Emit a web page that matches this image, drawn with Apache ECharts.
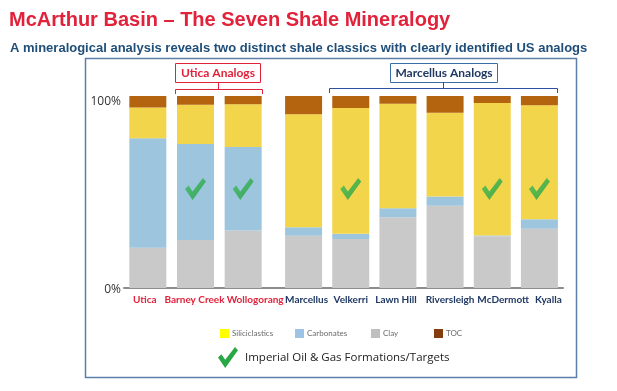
<!DOCTYPE html>
<html><head><meta charset="utf-8">
<script src="https://cdn.jsdelivr.net/npm/echarts@6/dist/echarts.min.js"></script>
<style>html,body{margin:0;padding:0;background:#fff}#c{width:617px;height:391px}</style>
</head><body><div id="c"></div>
<script>
const categories = ['Utica','Barney Creek','Wollogorang','Marcellus','Velkerri','Lawn Hill','Riversleigh','McDermott','Kyalla'];
const clay = [21, 25, 30, 27.2, 25.5, 36.9, 42.8, 26.9, 30.8];
const carbonates = [57, 50, 43.5, 4.5, 2.7, 4.7, 4.9, 0.5, 5.0];
const siliciclastics = [16, 20.5, 22.2, 58.8, 65.6, 54.4, 43.6, 69, 59.4];
const toc = [6, 4.5, 4.3, 9.5, 6.2, 4, 8.7, 3.6, 4.8];
const checks = ['-', 51.5, 51.5, '-', 51.5, '-', '-', 51.5, 51.5];
const yTicks = [0, 100];
const legendNames = ['Siliciclastics','Carbonates','Clay','TOC'];
const legendColors = ['#FFFF00','#9DC3E6','#BFBFBF','#843C0C'];
const uticaCount = 3; // first three are the Utica-analog group

const RED = '#E1223A', NAVY = '#1F3864';
const checkPath = 'path://M0,11 L4,7.5 L8.5,13.5 L20,0 L23.5,3.5 L8.5,22 Z';
const checkColor = new echarts.graphic.LinearGradient(0,0,1,1,[{offset:0,color:'#3FBF5A'},{offset:1,color:'#1E9A3E'}]);
const checkPts = [[0,11],[4,7.5],[8.5,13.5],[20,0],[23.5,3.5],[8.5,22]].map(p=>[218 + p[0]*0.85, 347 + p[1]*0.95]);

const groups = [categories.slice(0, uticaCount), categories.slice(uticaCount)];
const part = (arr, g) => g === 0 ? arr.slice(0, uticaCount) : arr.slice(uticaCount);
// horizontal nudges of the category labels (px), as in the original slide
const labelShift = [-3, -1, 12, 3, 0, -2, 5, 11, 9];

const chart = echarts.init(document.getElementById('c'), null, {renderer:'canvas'});
const catFont = 'Lato, sans-serif';
const series = [];
const seriesDefs = [
  ['Clay', clay, '#C9C9C9'], ['Carbonates', carbonates, '#9EC5DE'],
  ['Siliciclastics', siliciclastics, '#F3D54C'], ['TOC', toc, '#B4640F']
];
[0,1].forEach(g=>{
  seriesDefs.forEach(([n, arr, col])=>{
    series.push({name:n, type:'bar', stack:'s'+g, xAxisIndex:g, yAxisIndex:g, data:part(arr,g), barWidth:37, itemStyle:{color:col}});
  });
  series.push({name:'check', type:'scatter', xAxisIndex:g, yAxisIndex:g, data:part(checks,g), symbol:checkPath, symbolSize:[21,22], z:5,
     itemStyle:{color:checkColor}, silent:true});
});

const rich = {};
categories.forEach((c,i)=>{
  const s = labelShift[i];
  rich['c'+i] = {fontSize:10, fontWeight:'bold', fontFamily:catFont, color: i < uticaCount ? RED : NAVY,
    padding: s >= 0 ? [0,0,0,2*s] : [0,-2*s,0,0]};
});
const xAxisFor = (g)=>({type:'category', gridIndex:g, data:groups[g],
    axisLine:{lineStyle:{color:'#8c8c8c', width:2}}, axisTick:{show:false},
    axisLabel:{margin:7, interval:0,
      formatter:(v)=>'{c'+categories.indexOf(v)+'|'+v+'}', rich:rich}});

chart.setOption({
  animation:false,
  title:[
    {text:'McArthur Basin – The Seven Shale Mineralogy', left:4, top:5,
     textStyle:{color:RED, fontSize:20, fontWeight:'bold', fontFamily:'"Liberation Sans", Arial, sans-serif'}},
    {text:'A mineralogical analysis reveals two distinct shale classics with clearly identified US analogs', left:5, top:37,
     textStyle:{color:'#1F4E79', fontSize:13, fontWeight:'bold', fontFamily:'"Liberation Sans", Arial, sans-serif'}}
  ],
  grid:[{left:124, width:143, top:96, bottom:103}, {left:280, right:54, top:96, bottom:103}],
  legend: legendNames.map((n,i)=>({
    left:[215, 290, 366, 429][i], top:324, itemWidth:9, itemHeight:9, icon:'rect', selectedMode:false,
    textStyle:{color:'#6b6b6b', fontSize:8, fontFamily:'Lato, sans-serif', padding:[0,0,0,-2]},
    data:[{name:n, itemStyle:{color:legendColors[i]}}]
  })),
  xAxis:[xAxisFor(0), xAxisFor(1)],
  yAxis:[
    {type:'value', gridIndex:0, min:yTicks[0], max:yTicks[1], interval:100,
     axisLine:{show:false}, axisTick:{show:false}, splitLine:{show:false},
     axisLabel:{margin:3, formatter:(v)=> v===100 ? '{a|100%}' : '{b|'+v+'%}',
       rich:{a:{color:'#333', fontSize:12, fontFamily:'"Open Sans", sans-serif', padding:[12,0,0,0]},
             b:{color:'#333', fontSize:12, fontFamily:'"Open Sans", sans-serif', padding:[4,0,0,0]}}}},
    {type:'value', gridIndex:1, min:yTicks[0], max:yTicks[1], interval:100, show:false}
  ],
  series:series,
  graphic:[
    {type:'rect', shape:{x:85.5, y:58.5, width:491, height:319}, style:{fill:'none', stroke:'#5B7FA8', lineWidth:1.5}, z:-1},
    {type:'line', shape:{x1:266, y1:288, x2:281, y2:288}, style:{stroke:'#8c8c8c', lineWidth:2}},
    {type:'rect', shape:{x:175.5, y:63.5, width:85, height:19}, style:{fill:'#fff', stroke:RED, lineWidth:1}},
    {type:'text', x:218, y:73, style:{text:'Utica Analogs', fill:RED, font:'bold 12px Lato, sans-serif', textAlign:'center', textVerticalAlign:'middle'}},
    {type:'polyline', shape:{points:[[175.5,94],[175.5,89.5],[262.5,89.5],[262.5,94]]}, style:{stroke:RED, lineWidth:1, fill:'none'}},
    {type:'line', shape:{x1:218.5, y1:83, x2:218.5, y2:89.5}, style:{stroke:RED, lineWidth:1}},
    {type:'rect', shape:{x:390.5, y:63.5, width:107, height:19}, style:{fill:'#fff', stroke:'#3A6EA5', lineWidth:1}},
    {type:'text', x:444, y:73, style:{text:'Marcellus Analogs', fill:NAVY, font:'bold 12px Lato, sans-serif', textAlign:'center', textVerticalAlign:'middle'}},
    {type:'polyline', shape:{points:[[329.5,93],[329.5,88.5],[557.5,88.5],[557.5,93]]}, style:{stroke:'#2F4F9F', lineWidth:1, fill:'none'}},
    {type:'line', shape:{x1:443.5, y1:82, x2:443.5, y2:88.5}, style:{stroke:'#2F4F9F', lineWidth:1}},
    {type:'polygon', shape:{points:checkPts}, style:{fill:'#27A844'}},
    {type:'text', x:245, y:358, style:{text:'Imperial Oil & Gas Formations/Targets', fill:'#222', font:'11.5px "Open Sans", sans-serif', textVerticalAlign:'middle'}}
  ]
});
</script></body></html>
